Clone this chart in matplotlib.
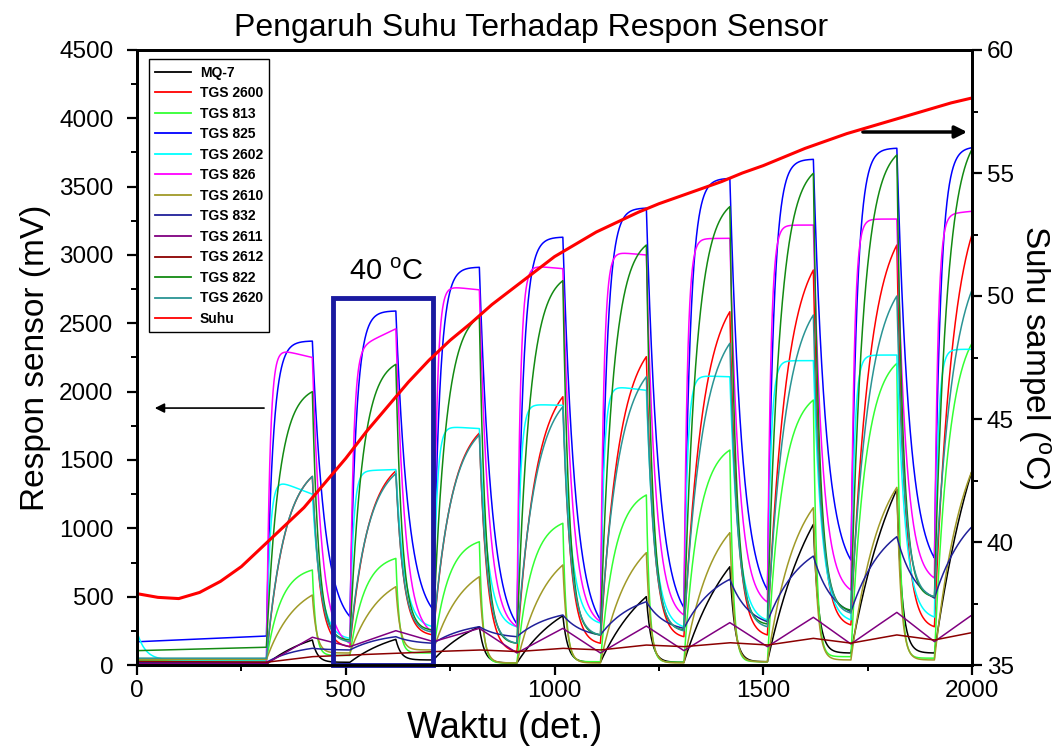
import numpy as np
import matplotlib
matplotlib.use("Agg")
import matplotlib.pyplot as plt
from matplotlib.lines import Line2D
from matplotlib.patches import Rectangle

plt.rcParams['font.family'] = ['Liberation Sans', 'DejaVu Sans']
plt.rcParams['mathtext.default'] = 'regular'

# gas on / gas off moments (s); last cycle runs to the end of the record
t_on = [310, 510, 710, 910, 1110, 1310, 1510, 1710, 1910]
t_off = [420, 620, 820, 1020, 1220, 1420, 1620, 1820, 2000]

# baseline before first exposure (value at 0 s, value at 310 s), mV
base_mq7 = [5, 5]
base_2600 = [40, 40]
base_813 = [30, 30]
base_825 = [170, 212]
base_2602 = [244, 35]
base_826 = [15, 15]
base_2610 = [40, 40]
base_832 = [20, 20]
base_2611 = [10, 10]
base_2612 = [26, 20]
base_822 = [105, 130]
base_2620 = [50, 50]

# response at gas off (last value = reading at 2000 s), mV
peak_mq7 = [183, 188, 280, 360, 500, 719, 1029, 1285, 1420]
peak_2600 = [1380, 1420, 1697, 1963, 2256, 2585, 2890, 3073, 3150]
peak_813 = [695, 780, 902, 1037, 1244, 1573, 1939, 2207, 2354]
peak_825 = [2370, 2590, 2910, 3130, 3343, 3560, 3700, 3781, 3785]
peak_2602 = [1250, 1430, 1730, 1900, 2010, 2109, 2227, 2268, 2310]
peak_826 = [2250, 2460, 2745, 2900, 3000, 3122, 3219, 3263, 3320]
peak_2610 = [512, 573, 646, 732, 822, 968, 1151, 1300, 1420]
peak_832 = [122, 207, 280, 366, 463, 627, 797, 939, 1012]
peak_2611 = [203, 251, 268, 268, 285, 310, 349, 385, 366]
peak_2612 = [61, 85, 110, 122, 146, 163, 195, 220, 237]
peak_822 = [2000, 2200, 2548, 2812, 3073, 3354, 3598, 3732, 3773]
peak_2620 = [1380, 1400, 1683, 1890, 2109, 2354, 2561, 2700, 2744]

# early plateau just after gas on (sensors that overshoot then drift)
early_2602 = [1380, 1420, 1750, 1910, 2050, 2120, 2227, 2268, 2310]
early_826 = [2330, 2300, 2780, 2930, 3030, 3120, 3219, 3263, 3293]

# minimum just before the next gas on (510 ... 1910 s), mV
trough_mq7 = [20, 37, 15, 20, 20, 24, 88, 88]
trough_2600 = [134, 220, 98, 159, 207, 220, 293, 280]
trough_813 = [70, 88, 15, 24, 20, 24, 61, 50]
trough_825 = [354, 402, 300, 330, 420, 550, 768, 783]
trough_2602 = [195, 280, 280, 307, 280, 329, 330, 351]
trough_826 = [159, 238, 280, 317, 366, 460, 549, 636]
trough_2610 = [88, 110, 15, 15, 15, 24, 37, 37]
trough_832 = [110, 159, 207, 220, 268, 317, 390, 490]
trough_2611 = [134, 171, 88, 88, 105, 134, 154, 171]
trough_2612 = [73, 98, 98, 110, 134, 146, 160, 183]
trough_822 = [183, 256, 159, 220, 256, 300, 402, 500]
trough_2620 = [170, 240, 159, 220, 250, 280, 380, 500]

# sample temperature (deg C)
temp_t = [0, 50, 100, 150, 200, 250, 300, 350, 400, 450, 500, 550, 600, 650, 700,
          750, 800, 850, 900, 950, 1000, 1050, 1100, 1150, 1200, 1250, 1300, 1350,
          1400, 1450, 1500, 1550, 1600, 1650, 1700, 1750, 1800, 1850, 1900, 1950, 2000]
temp_c = [37.9, 37.75, 37.7, 37.95, 38.4, 39.0, 39.8, 40.6, 41.4, 42.4, 43.4, 44.5,
          45.5, 46.5, 47.4, 48.2, 48.9, 49.65, 50.3, 50.95, 51.6, 52.1, 52.6, 53.0,
          53.4, 53.75, 54.05, 54.35, 54.65, 55.0, 55.3, 55.65, 56.0, 56.3, 56.6, 56.85,
          57.1, 57.35, 57.6, 57.85, 58.05]

names = ["MQ-7", "TGS 2600", "TGS 813", "TGS 825", "TGS 2602", "TGS 826",
         "TGS 2610", "TGS 832", "TGS 2611", "TGS 2612", "TGS 822", "TGS 2620"]
colors = ["#000000", "#ff0000", "#33ff33", "#0000ff", "#00ffff", "#ff00ff",
          "#a09a28", "#20209a", "#800080", "#8b0000", "#138a13", "#2a9494"]
bases = [base_mq7, base_2600, base_813, base_825, base_2602, base_826,
         base_2610, base_832, base_2611, base_2612, base_822, base_2620]
peaks = [peak_mq7, peak_2600, peak_813, peak_825, peak_2602, peak_826,
         peak_2610, peak_832, peak_2611, peak_2612, peak_822, peak_2620]
troughs = [trough_mq7, trough_2600, trough_813, trough_825, trough_2602, trough_826,
           trough_2610, trough_832, trough_2611, trough_2612, trough_822, trough_2620]
earlies = [None, None, None, None, early_2602, early_826,
           None, None, None, None, None, None]
# rise / decay time constants (s)
tau_rise = [120, 45, 35, 15, 8, 8, 70, 80, 5000, 5000, 30, 45]
tau_fall = [12, 18, 8, 30, 20, 22, 10, 45, 5000, 5000, 15, 18]


def response(base, pk, tr, tau_r, tau_d, early, base_tau=None):
    t = np.arange(0, 2001)
    v = np.zeros(t.size)
    m = t <= t_on[0]
    if base_tau:
        v[m] = base[1] + (base[0] - base[1]) * np.exp(-t[m] / base_tau)
    else:
        v[m] = base[0] + (base[1] - base[0]) * t[m] / t_on[0]
    starts = [base[1]] + tr
    for i in range(len(t_on)):
        on, off = t_on[i], t_off[i]
        lo, top = starts[i], pk[i]
        hi = top if early is None else early[i]
        T = off - on
        k = 1 - np.exp(-T / tau_r)
        m = (t > on) & (t <= off)
        dt = t[m] - on
        v[m] = lo + (hi - lo) * (1 - np.exp(-dt / tau_r)) / k + (top - hi) * dt / T
        if i < len(tr):
            nxt = tr[i]
            D = t_on[i + 1] - off
            e = np.exp(-D / tau_d)
            m = (t > off) & (t <= t_on[i + 1])
            dt = t[m] - off
            v[m] = nxt + (top - nxt) * (np.exp(-dt / tau_d) - e) / (1 - e)
    return t, v


fig = plt.figure(figsize=(10.61, 7.51), dpi=100)
ax = fig.add_axes([137 / 1061, 86 / 751, 835 / 1061, 615 / 751])
ax2 = ax.twinx()

handles = []
for i in range(len(names)):
    bt = 20 if names[i] == "TGS 2602" else None
    t, v = response(bases[i], peaks[i], troughs[i], tau_rise[i], tau_fall[i],
                    earlies[i], bt)
    ax.plot(t, v, color=colors[i], lw=1.1)
    handles.append(Line2D([], [], color=colors[i], lw=1.3, label=names[i]))

ax2.plot(temp_t, temp_c, color="#ff0000", lw=2.2)
handles.append(Line2D([], [], color="#ff0000", lw=1.3, label="Suhu"))

ax.set_xlim(0, 2000)
ax.set_ylim(0, 4500)
ax2.set_ylim(35, 60)
ax.set_xticks(np.arange(0, 2001, 500))
ax.set_xticks(np.arange(0, 2001, 250), minor=True)
ax.set_yticks(np.arange(0, 4501, 500))
ax.set_yticks(np.arange(0, 4501, 250), minor=True)
ax2.set_yticks(np.arange(35, 61, 5))
ax2.set_yticks(np.arange(35, 61, 2.5), minor=True)

for a in (ax, ax2):
    for s in a.spines.values():
        s.set_linewidth(2)
    a.tick_params(which='major', direction='out', length=7, width=1.6, labelsize=17.5)
    a.tick_params(which='minor', direction='out', length=4, width=1.4)
ax.tick_params(axis='y', which='major', pad=10)

ax.set_xlabel("Waktu (det.)", fontsize=26, labelpad=2)
ax.xaxis.set_label_coords(0.44, -0.075)
ax.set_ylabel("Respon sensor (mV)", fontsize=24, labelpad=6)
ax2.set_ylabel("Suhu sampel ($^{o}$C)", fontsize=24, rotation=270, labelpad=28)
ax.set_title("Pengaruh Suhu Terhadap Respon Sensor", fontsize=23, pad=10, x=0.472)

ax.add_patch(Rectangle((469, 0), 240, 2685, fill=False, edgecolor="#1a1aa0",
                       lw=3.5, zorder=5, clip_on=False))
ax.text(597, 2875, "40 $^{o}$C", fontsize=21, ha='center', va='center')

ax.annotate("", xy=(36, 1880), xytext=(311, 1880),
            arrowprops=dict(arrowstyle='-|>', color='black', lw=1.2, mutation_scale=14))
ax.annotate("", xy=(1995, 3900), xytext=(1732, 3900),
            arrowprops=dict(arrowstyle='-|>', color='black', lw=2.5, mutation_scale=18))

leg = ax2.legend(handles=handles, loc='upper left', bbox_to_anchor=(0.006, 0.996),
                 fancybox=False, edgecolor='black', framealpha=1,
                 prop={'weight': 'bold', 'size': 10}, handlelength=2.6,
                 labelspacing=0.47, borderpad=0.45, handletextpad=0.6)
leg.get_frame().set_linewidth(1.0)

fig.savefig("out.png", dpi=100)
